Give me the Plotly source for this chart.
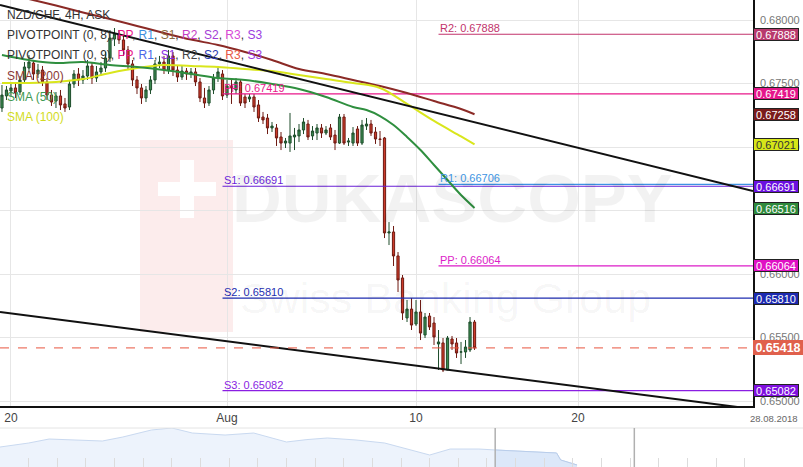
import plotly.graph_objects as go
from datetime import datetime, timedelta

# ---------------- data ----------------
instrument_title = "NZD/CHF, 4H, ASK"

first_bar = datetime(2018, 7, 19, 16)
last_bar = datetime(2018, 8, 14, 4)
bar_times = []
t = first_bar
while t <= last_bar:
    if t.weekday() < 5:
        bar_times.append(t)
    t += timedelta(hours=4)

opens = [
    0.67307, 0.67402, 0.67441, 0.67465, 0.67433, 0.67528, 0.67622, 0.67661, 0.67575, 0.67606,
    0.67512, 0.67409, 0.67362, 0.67402, 0.67339, 0.67315, 0.67496, 0.67575, 0.67528, 0.67559,
    0.67638, 0.67543, 0.67591, 0.67622, 0.67701, 0.67850, 0.67890, 0.67843, 0.67764, 0.67654,
    0.67528, 0.67465, 0.67386, 0.67449, 0.67528, 0.67654, 0.67669, 0.67606, 0.67717, 0.67606,
    0.67551, 0.67598, 0.67575, 0.67591, 0.67512, 0.67386, 0.67346, 0.67449, 0.67543, 0.67575,
    0.67409, 0.67480, 0.67449, 0.67512, 0.67394, 0.67378, 0.67394, 0.67331, 0.67236, 0.67228,
    0.67150, 0.67150, 0.67079, 0.67031, 0.67031, 0.67079, 0.67087, 0.67134, 0.67181, 0.67087,
    0.67110, 0.67150, 0.67110, 0.67150, 0.67094, 0.67031, 0.67236, 0.67039, 0.67031, 0.67142,
    0.67031, 0.67165, 0.67181, 0.67118, 0.67063, 0.67071, 0.66323, 0.66331, 0.66142, 0.65969,
    0.65654, 0.65724, 0.65606, 0.65701, 0.65520, 0.65669, 0.65614, 0.65449, 0.65457, 0.65244,
    0.65488, 0.65457, 0.65386, 0.65386, 0.65402, 0.65622]
closes = [
    0.67409, 0.67449, 0.67465, 0.67425, 0.67528, 0.67630, 0.67669, 0.67575, 0.67606, 0.67512,
    0.67409, 0.67354, 0.67402, 0.67331, 0.67307, 0.67496, 0.67575, 0.67528, 0.67559, 0.67638,
    0.67543, 0.67591, 0.67622, 0.67701, 0.67858, 0.67890, 0.67843, 0.67764, 0.67654, 0.67528,
    0.67465, 0.67386, 0.67449, 0.67528, 0.67654, 0.67669, 0.67606, 0.67717, 0.67606, 0.67551,
    0.67598, 0.67575, 0.67591, 0.67512, 0.67386, 0.67346, 0.67449, 0.67543, 0.67591, 0.67402,
    0.67480, 0.67465, 0.67512, 0.67346, 0.67346, 0.67394, 0.67315, 0.67228, 0.67213, 0.67150,
    0.67165, 0.67071, 0.67031, 0.67047, 0.67087, 0.67094, 0.67134, 0.67197, 0.67079, 0.67126,
    0.67150, 0.67110, 0.67134, 0.67079, 0.67031, 0.67236, 0.67031, 0.67047, 0.67110, 0.67031,
    0.67173, 0.67181, 0.67110, 0.67063, 0.67060, 0.66323, 0.66331, 0.66142, 0.65953, 0.65693,
    0.65724, 0.65598, 0.65701, 0.65535, 0.65661, 0.65583, 0.65504, 0.65465, 0.65244, 0.65496,
    0.65449, 0.65378, 0.65386, 0.65425, 0.65622, 0.65418]
highs = [
    0.67488, 0.67480, 0.67512, 0.67496, 0.67559, 0.67669, 0.67724, 0.67685, 0.67654, 0.67638,
    0.67543, 0.67449, 0.67433, 0.67449, 0.67386, 0.67528, 0.67606, 0.67622, 0.67606, 0.67685,
    0.67669, 0.67638, 0.67669, 0.67748, 0.67921, 0.67937, 0.67921, 0.67874, 0.67795, 0.67685,
    0.67559, 0.67496, 0.67480, 0.67559, 0.67685, 0.67717, 0.67717, 0.67764, 0.67748, 0.67638,
    0.67638, 0.67622, 0.67622, 0.67622, 0.67543, 0.67465, 0.67480, 0.67575, 0.67638, 0.67606,
    0.67528, 0.67543, 0.67543, 0.67528, 0.67417, 0.67417, 0.67417, 0.67370, 0.67276, 0.67260,
    0.67197, 0.67181, 0.67118, 0.67071, 0.67268, 0.67150, 0.67181, 0.67228, 0.67213, 0.67165,
    0.67181, 0.67181, 0.67165, 0.67181, 0.67134, 0.67260, 0.67260, 0.67071, 0.67157, 0.67165,
    0.67213, 0.67228, 0.67213, 0.67157, 0.67126, 0.67079, 0.66409, 0.66378, 0.66173, 0.65992,
    0.65795, 0.65811, 0.65795, 0.65795, 0.65693, 0.65693, 0.65661, 0.65559, 0.65496, 0.65512,
    0.65512, 0.65496, 0.65465, 0.65480, 0.65661, 0.65638]
lows = [
    0.67276, 0.67370, 0.67402, 0.67386, 0.67409, 0.67496, 0.67591, 0.67528, 0.67543, 0.67480,
    0.67370, 0.67323, 0.67307, 0.67291, 0.67276, 0.67291, 0.67465, 0.67480, 0.67496, 0.67528,
    0.67496, 0.67512, 0.67559, 0.67591, 0.67669, 0.67795, 0.67811, 0.67717, 0.67606, 0.67480,
    0.67417, 0.67339, 0.67354, 0.67417, 0.67496, 0.67622, 0.67575, 0.67575, 0.67559, 0.67512,
    0.67528, 0.67528, 0.67543, 0.67480, 0.67354, 0.67307, 0.67323, 0.67417, 0.67512, 0.67370,
    0.67386, 0.67339, 0.67417, 0.67323, 0.67307, 0.67354, 0.67276, 0.67197, 0.67181, 0.67102,
    0.67118, 0.67008, 0.66976, 0.66992, 0.66961, 0.66976, 0.67039, 0.67102, 0.67055, 0.67055,
    0.67055, 0.67071, 0.67094, 0.67055, 0.66976, 0.67024, 0.67016, 0.67008, 0.67008, 0.67008,
    0.67016, 0.67134, 0.67087, 0.67024, 0.67008, 0.66283, 0.66228, 0.66063, 0.65858, 0.65638,
    0.65622, 0.65559, 0.65591, 0.65480, 0.65496, 0.65559, 0.65441, 0.65244, 0.65228, 0.65244,
    0.65402, 0.65339, 0.65291, 0.65339, 0.65386, 0.65402]

sma_dates = ["2018-07-19 16:00", "2018-07-20 16:00", "2018-07-23 16:00", "2018-07-24 16:00",
             "2018-07-25 16:00", "2018-07-26 16:00", "2018-07-27 16:00", "2018-07-30 16:00",
             "2018-07-31 16:00", "2018-08-01 16:00", "2018-08-02 16:00", "2018-08-03 16:00",
             "2018-08-06 16:00", "2018-08-07 16:00", "2018-08-08 16:00", "2018-08-09 16:00",
             "2018-08-10 16:00", "2018-08-13 16:00", "2018-08-14 04:00"]
sma200 = [0.68220, 0.68165, 0.68114, 0.68059, 0.68008, 0.67953, 0.67898, 0.67846, 0.67803, 0.67748,
          0.67685, 0.67614, 0.67575, 0.67528, 0.67480, 0.67425, 0.67362, 0.67299, 0.67258]
sma100 = [0.67504, 0.67504, 0.67512, 0.67535, 0.67583, 0.67622, 0.67646, 0.67638, 0.67630, 0.67614,
          0.67598, 0.67567, 0.67535, 0.67504, 0.67465, 0.67339, 0.67205, 0.67083, 0.67021]
sma50_dates = ["2018-07-19 16:00", "2018-07-20 16:00", "2018-07-23 16:00", "2018-07-24 16:00",
               "2018-07-25 16:00", "2018-07-26 16:00", "2018-07-27 16:00", "2018-07-30 16:00",
               "2018-07-31 16:00", "2018-08-01 16:00", "2018-08-02 16:00", "2018-08-03 16:00",
               "2018-08-06 16:00", "2018-08-07 16:00", "2018-08-08 04:00", "2018-08-08 16:00",
               "2018-08-09 04:00", "2018-08-09 16:00", "2018-08-10 04:00", "2018-08-10 16:00",
               "2018-08-13 04:00", "2018-08-13 16:00", "2018-08-14 04:00"]
sma50 = [0.67724, 0.67685, 0.67661, 0.67669, 0.67646, 0.67630, 0.67606, 0.67575, 0.67543, 0.67528,
         0.67496, 0.67457, 0.67394, 0.67315, 0.67291, 0.67244, 0.67173, 0.67079, 0.66976, 0.66858,
         0.66740, 0.66622, 0.66520]

x_range = ["2018-07-19 14:15", "2018-08-28 11:30"]
y_range = [0.649606, 0.681575]

trend_dates = ["2018-07-19 14:15", "2018-08-28 11:30"]
upper_trend = [0.68118, 0.66654]
lower_trend = [0.65701, 0.64937]

pivot_levels = [0.67888, 0.67419, 0.66706, 0.66691, 0.66064, 0.65810, 0.65082]
pivot_names = ["R2", "PP", "R1", "S1", "PP", "S2", "S3"]
pivot_starts = ["2018-08-10 20:00", "2018-07-31 20:00", "2018-08-10 20:00", "2018-07-31 20:00",
                "2018-08-10 20:00", "2018-07-31 20:00", "2018-07-31 20:00"]
pivot_colors = ["#c2336b", "#e8178a", "#3d94e2", "#6a1fd6", "#dc1cc8", "#1e2db0", "#8a1ee2"]

box_values = [0.67888, 0.67419, 0.67258, 0.67021, 0.66691, 0.66516, 0.66064, 0.65810, 0.65082]
box_colors = ["#b8396d", "#e5178b", "#7a1b1b", "#d6e619", "#6a10e0", "#2f8a3c", "#e010c4",
              "#1c2ab0", "#8010e0"]
box_text_colors = ["white", "white", "white", "#333333", "white", "white", "white", "white", "white"]

x_tick_vals = ["2018-07-20", "2018-08-01", "2018-08-10", "2018-08-20"]
x_tick_text = ["20", "Aug", "10", "20"]
end_date_label = "28.08.2018"

nav_dates = ["2018-03-26", "2018-04-02", "2018-04-07", "2018-04-13", "2018-04-20", "2018-04-25",
             "2018-05-02", "2018-05-07", "2018-05-12", "2018-05-20", "2018-05-27", "2018-06-04",
             "2018-06-09", "2018-06-14", "2018-06-21", "2018-06-28", "2018-07-06", "2018-07-09",
             "2018-07-14", "2018-07-21", "2018-07-25", "2018-08-03", "2018-08-09", "2018-08-10",
             "2018-08-14"]
nav_values = [0.6767, 0.6817, 0.6867, 0.6855, 0.6842, 0.6892, 0.6980, 0.7005, 0.6942, 0.6917,
              0.6942, 0.6830, 0.6860, 0.6880, 0.6855, 0.6817, 0.6705, 0.6667, 0.6742, 0.6742,
              0.6730, 0.6705, 0.6692, 0.6605, 0.6542]
nav_window = ["2018-07-25", "2018-08-28"]
nav_x_range = ["2018-03-26", "2018-09-26"]
nav_y_range = [0.6517, 0.7005]

# ---------------- figure ----------------
W, H = 803, 467
PLOT_W = 753
MAIN_BOTTOM = 406
NAV_TOP = 428
FONT = "Arial, Liberation Sans, Helvetica, sans-serif"


def py(p):
    return 1 - p / H


fig = go.Figure()

# navigator
fig.add_trace(go.Scatter(x=nav_dates, y=nav_values, mode="lines", fill="tozeroy",
                         line=dict(color="#c9d9f0", width=1), fillcolor="#edf3fc",
                         xaxis="x2", yaxis="y2", hoverinfo="skip"))
win_d = [d for d in nav_dates if d >= nav_window[0]]
win_v = [v for d, v in zip(nav_dates, nav_values) if d >= nav_window[0]]
fig.add_trace(go.Scatter(x=win_d, y=win_v, mode="lines", fill="tozeroy",
                         line=dict(color="#b9cdea", width=1), fillcolor="#dce8f9",
                         xaxis="x2", yaxis="y2", hoverinfo="skip"))

# pivot lines
for lvl, st, col in zip(pivot_levels, pivot_starts, pivot_colors):
    fig.add_trace(go.Scatter(x=[st, x_range[1]], y=[lvl, lvl], mode="lines",
                             line=dict(color=col, width=1.2), hoverinfo="skip"))

# candles
fig.add_trace(go.Candlestick(
    x=bar_times, open=opens, high=highs, low=lows, close=closes,
    increasing=dict(fillcolor="#3b8a50", line=dict(color="#1e4d2b", width=1)),
    decreasing=dict(fillcolor="#cc3b2a", line=dict(color="#6e1a12", width=1)),
    whiskerwidth=0, hoverinfo="skip"))

# SMAs
fig.add_trace(go.Scatter(x=sma_dates, y=sma200, mode="lines", line=dict(color="#8b2a26", width=2),
                         line_shape="spline", hoverinfo="skip"))
fig.add_trace(go.Scatter(x=sma_dates, y=sma100, mode="lines", line=dict(color="#d9e61c", width=2),
                         line_shape="spline", hoverinfo="skip"))
fig.add_trace(go.Scatter(x=sma50_dates, y=sma50, mode="lines", line=dict(color="#2f8f3f", width=2),
                         line_shape="spline", hoverinfo="skip"))

# trend lines
fig.add_trace(go.Scatter(x=trend_dates, y=upper_trend, mode="lines", line=dict(color="#111111", width=2),
                         hoverinfo="skip"))
fig.add_trace(go.Scatter(x=trend_dates, y=lower_trend, mode="lines", line=dict(color="#111111", width=2),
                         hoverinfo="skip"))

shapes = []
# watermark square with cross
shapes.append(dict(type="rect", xref="paper", yref="paper", x0=140 / PLOT_W, x1=233 / PLOT_W,
                   y0=py(332), y1=py(140), fillcolor="#fcecec", line=dict(width=0), layer="below"))
shapes.append(dict(type="rect", xref="paper", yref="paper", x0=180 / PLOT_W, x1=194 / PLOT_W,
                   y0=py(218), y1=py(160), fillcolor="white", line=dict(width=0), layer="below"))
shapes.append(dict(type="rect", xref="paper", yref="paper", x0=158 / PLOT_W, x1=216 / PLOT_W,
                   y0=py(196), y1=py(182), fillcolor="white", line=dict(width=0), layer="below"))
# last price dashed line
shapes.append(dict(type="line", xref="paper", yref="y", x0=0, x1=1, y0=closes[-1], y1=closes[-1],
                   line=dict(color="#e8553f", width=1, dash="dash")))
# navigator top border and window handles
shapes.append(dict(type="line", xref="paper", yref="paper", x0=0, x1=W / PLOT_W,
                   y0=py(NAV_TOP), y1=py(NAV_TOP), line=dict(color="#e4e4e4", width=1)))
for d in nav_window:
    shapes.append(dict(type="line", xref="x2", yref="paper", x0=d, x1=d, y0=0, y1=py(NAV_TOP),
                       line=dict(color="#b0b0b0", width=1.5)))

ann = []
# watermark texts
ann.append(dict(text="<b>DUKASCOPY</b>", xref="paper", yref="paper", x=452 / PLOT_W, y=py(198),
                xanchor="center", yanchor="middle",
                showarrow=False, font=dict(size=69, color="rgba(0,0,0,0.05)", family=FONT)))
ann.append(dict(text="Swiss Banking Group", xref="paper", yref="paper", x=445 / PLOT_W, y=py(298),
                xanchor="center", yanchor="middle",
                showarrow=False, font=dict(size=43, color="rgba(0,0,0,0.045)", family=FONT)))

# top-left legend text
row1 = instrument_title
row2 = ("PIVOTPOINT (0, 8), <span style='color:#e8178a'>PP</span>, "
        "<span style='color:#3d8fe0'>R1</span>, <span style='color:#8b6b3e'>S1</span>, "
        "<span style='color:#c43dc4'>R2</span>, <span style='color:#a43ed6'>S2</span>, "
        "<span style='color:#d84ad8'>R3</span>, <span style='color:#9b3be0'>S3</span>")
row3 = ("PIVOTPOINT (0, 9), <span style='color:#e8178a'>PP</span>, "
        "<span style='color:#4a68e8'>R1</span>, <span style='color:#8a2be2'>S1</span>, "
        "<span style='color:#444444'>R2</span>, <span style='color:#2a3ab0'>S2</span>, "
        "<span style='color:#e85a48'>R3</span>, <span style='color:#9b3be0'>S3</span>")
legend_rows = [(row1, "#333333", 15), (row2, "#333333", 35), (row3, "#333333", 55),
               ("SMA (200)", "#8b3a36", 76), ("SMA (50)", "#3f9a50", 97), ("SMA (100)", "#d2dc1e", 117)]
for txt, col, yy in legend_rows:
    ann.append(dict(text=txt, xref="paper", yref="paper", x=5 / PLOT_W, y=py(yy), xanchor="left",
                    yanchor="middle", showarrow=False, font=dict(size=12, color=col, family=FONT)))

# pivot labels
for lvl, nm, st, col in zip(pivot_levels, pivot_names, pivot_starts, pivot_colors):
    ann.append(dict(text=f"{nm}: {lvl:.5f}", x=st, y=lvl, xref="x", yref="y", xanchor="left",
                    yanchor="bottom", showarrow=False, xshift=-1, yshift=-2,
                    font=dict(size=11, color=col, family=FONT)))

# right-axis value boxes
for v, bc, tc in zip(box_values, box_colors, box_text_colors):
    ann.append(dict(text=f"{v:.5f}", x=1, y=v, xref="paper", yref="y", xanchor="left",
                    yanchor="middle", showarrow=False, bgcolor=bc, bordercolor="#222222",
                    borderwidth=1, borderpad=0, width=44, height=11,
                    font=dict(size=11, color=tc, family=FONT)))
ann.append(dict(text=f"<b>{closes[-1]:.5f}</b>", x=1, y=closes[-1], xref="paper", yref="y",
                xanchor="left", yanchor="middle", showarrow=False, bgcolor="#e0604c",
                borderwidth=0, borderpad=0, width=50, height=15,
                font=dict(size=12.5, color="white", family=FONT)))
ann.append(dict(text=end_date_label, x=800 / PLOT_W, y=py(418), xref="paper", yref="paper",
                xanchor="right", yanchor="middle",
                showarrow=False, font=dict(size=9.5, color="#666666", family=FONT)))

fig.update_layout(
    width=W, height=H, margin=dict(l=0, r=W - PLOT_W, t=0, b=0),
    paper_bgcolor="white", plot_bgcolor="white", showlegend=False,
    shapes=shapes, annotations=ann,
    xaxis=dict(domain=[0, 1], range=x_range, rangebreaks=[dict(bounds=["sat", "mon"])],
               rangeslider=dict(visible=False), tickvals=x_tick_vals, ticktext=x_tick_text,
               showgrid=True, gridcolor="#e6e6e6", gridwidth=1, showline=True, linecolor="#111111",
               linewidth=1.5, ticks="", ticklabelstandoff=0,
               tickfont=dict(size=12, color="#444444", family=FONT), anchor="y", zeroline=False),
    yaxis=dict(domain=[py(MAIN_BOTTOM), 1], range=y_range, side="right", dtick=0.005, tick0=0.65,
               tickformat=".5f", showgrid=True, gridcolor="#e6e6e6", showline=True, linecolor="#111111",
               linewidth=1.5, ticks="", tickfont=dict(size=11, color="#777777", family=FONT),
               zeroline=False, anchor="x", ticklabelstandoff=3),
    xaxis2=dict(domain=[0, 1], range=nav_x_range, anchor="y2", showgrid=False, showline=False,
                showticklabels=False, ticks="inside", ticklen=9, tickcolor="#dcdcdc",
                tick0="2018-04-02", dtick=7 * 24 * 3600 * 1000, zeroline=False),
    yaxis2=dict(domain=[0, py(NAV_TOP)], range=nav_y_range, visible=False, anchor="x2"),
)

fig.write_html("out.html", config={"displayModeBar": False},
               post_script="document.body.style.margin='0px';document.body.style.overflow='hidden';")
